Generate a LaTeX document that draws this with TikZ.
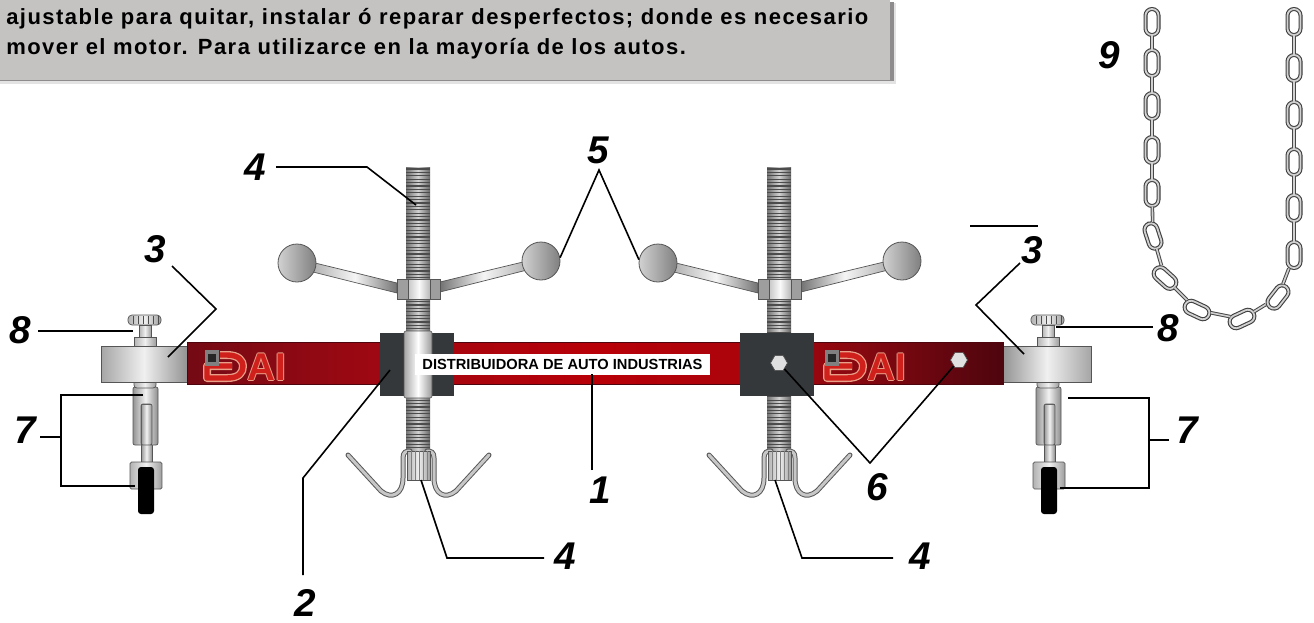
\documentclass[tikz,border=0pt]{standalone}
\usepackage{fontspec}
\setmainfont{Liberation Sans}
\usetikzlibrary{shapes.geometric}
\newlength\px \setlength\px{.75pt}
\definecolor{panel}{HTML}{C5C2C2}
\definecolor{panelshadow}{HTML}{8E8C8C}
\definecolor{panelsoft}{HTML}{E4E3E3}
\definecolor{edge}{HTML}{555555}
\definecolor{blockdark}{HTML}{34383A}
\definecolor{logotan}{HTML}{E8A088}
\definecolor{logofill}{HTML}{D0201C}
\definecolor{barA}{HTML}{740A14}
\definecolor{barB}{HTML}{A00812}
\definecolor{barC}{HTML}{B80008}
\definecolor{barD}{HTML}{AA040C}
\definecolor{barE}{HTML}{870810}
\definecolor{barF}{HTML}{4E050E}
\pgfdeclarehorizontalshading{barshade}{100bp}{
 color(0bp)=(barA);
 color(25bp)=(barA);
 color(37bp)=(barB);
 color(50bp)=(barC);
 color(60bp)=(barD);
 color(66bp)=(barE);
 color(75bp)=(barF);
 color(100bp)=(barF)}
\tikzset{
 x=.75pt,y=-.75pt,
 leader/.style={draw=black,line width=1.6\px,line join=miter},
 numlabel/.style={font=\fontsize{29}{29}\selectfont\bfseries\itshape,inner sep=0pt},
 headtext/.style={font=\fontsize{16.5}{16.5}\selectfont\bfseries,inner sep=0pt,anchor=base west},
 metal/.style={draw=edge,line width=.7\px,left color=black!42,right color=black!45,middle color=black!5},
 metalflat/.style={draw=edge,line width=.7\px,left color=black!30,right color=black!38,middle color=black!6},
 threadbase/.style={left color=black!55,right color=black!60,middle color=black!18},
 threadline/.style={draw=black!70,line width=1.1\px},
 ball/.style={circle,draw=edge,line width=.8\px,minimum size=38\px,inner sep=0pt,left color=black!18,right color=black!50},
 hookwire/.style={draw=black!65,double=black!22,double distance=3\px,line width=1\px,line cap=round},
 linkring/.style={rectangle,rounded corners=6.5\px,minimum width=26\px,minimum height=13\px,inner sep=0pt,draw=black!75,double=black!18,double distance=1.8\px,line width=1.1\px},
 linkbar/.style={draw=black!72,double=black!18,double distance=1.6\px,line width=1\px},
 boltnode/.style={regular polygon,regular polygon sides=6,minimum size=17\px,inner sep=0pt,draw=black!70,line width=.7\px,fill=black!12},
 logored/.style={draw=logotan,double=logofill,double distance=5.4\px,line width=1.3\px,line join=round},
 logotext/.style={font=\fontsize{29}{29}\selectfont\bfseries,inner sep=0pt},
}
\newcommand{\wingscrew}[1]{%
 \shade[threadbase] (406,167) rectangle (430,452);
 \foreach \ty in {169,172.4,...,450}{\draw[threadline] (406,\ty) -- (430,\ty);}
 \draw[hookwire] (348,455) -- (381,491) .. controls (392,500) and (403,494) .. (403,478) -- (403,458) .. controls (403,452) and (406,451) .. (410,451);
 \draw[hookwire] (489,455) -- (456,491) .. controls (445,500) and (434,494) .. (434,478) -- (434,458) .. controls (434,452) and (431,451) .. (427,451);
 \shade[metalflat] (407,451) rectangle (430,480);
 \foreach \rx in {411,415,...,427}{\draw[draw=black!50,line width=.7\px] (\rx,451) -- (\rx,480);}
 \shade[draw=edge,line width=.7\px,left color=black!30,right color=black!55,middle color=black!4] (315,263) -- (397,283) -- (397,293) -- (313,272) -- cycle;
 \shade[draw=edge,line width=.7\px,left color=black!55,right color=black!30,middle color=black!4] (523,262) -- (440,282) -- (440,292) -- (527,270) -- cycle;
 \filldraw[draw=edge,line width=.7\px,fill=black!38] (397,279) rectangle (440,299);
 \shade[draw=edge,line width=.5\px,left color=black!22,right color=black!28,middle color=black!2] (408,279) rectangle (430,299);
 \node[ball] (#1L) at (297,263) {};
 \node[ball] (#1R) at (541,261) {};
}
\newcommand{\clampparts}{%
 \shade[metalflat,rounded corners=4\px] (128,315) rectangle (161,325);
 \foreach \rx in {133,138,...,158}{\draw[draw=black!70,line width=1\px] (\rx,316) -- (\rx,324);}
 \shade[metalflat] (139,325) rectangle (151,337);
 \shade[metalflat] (134,337) rectangle (156,346);
 \shade[metal] (141,404) rectangle (152,464);
 \shade[metal,even odd rule,rounded corners=2\px] (133,387) rectangle (158,445) (141,404) rectangle (152,445);
 \shade[metalflat,rounded corners=3\px] (134,380) rectangle (156,388);
 \shade[metalflat,rounded corners=1.5\px] (130,462) rectangle (162,489);
 \fill[black,rounded corners=3\px] (138,467) rectangle (154,514);
}
\newcommand{\dailogo}{%
 \draw[logored] (220,355) -- (227,355) .. controls (239,355) and (243,361) .. (243,366) .. controls (243,373) and (239,378) .. (227,378) -- (207,378) -- (207,366) -- (232,366);
 \fill[black!50] (205,350) rectangle (219,366);
 \fill[black!85] (208,354) rectangle (216,362);
 \foreach \ox/\oy in {-1/0,1/0,0/-1,0/1}{
  \node[logotext,text=logotan] at (267+\ox,367+\oy) {AI};}
 \node[logotext,text=logofill] (ai) at (267,367) {AI};
}
\begin{document}
\begin{tikzpicture}
\useasboundingbox (0,0) rectangle (1314,622);
\fill[white] (0,0) rectangle (1314,622);
% heading panel
\fill[panelsoft] (0,3) rectangle (896,84);
\fill[panelshadow] (0,2) rectangle (894,81);
\fill[panel] (-2,-2) rectangle (890,80);
\node[headtext] (head1) at (6,24) {\addfontfeature{LetterSpace=6.7}ajustable para quitar, instalar ó reparar desperfectos; donde es necesario};
\node[headtext] (head2) at (6,54) {\addfontfeature{LetterSpace=6.7}mover el motor. Para utilizarce en la mayoría de los autos.};
% screws behind the bar
\wingscrew{wa}
\begin{scope}[xshift=361\px]\wingscrew{wb}\end{scope}
% clamps
\clampparts
\begin{scope}[xshift=903\px]\clampparts\end{scope}
% bar and end blocks
\shade[draw=edge,line width=.7\px,left color=black!35,right color=black!42,middle color=black!6] (101,346) rectangle (187,382);
\shade[draw=edge,line width=.7\px,left color=black!42,right color=black!35,middle color=black!6] (1003,346) rectangle (1091,382);
\shade[shading=barshade,draw=barF,line width=.8\px] (187,342) rectangle (1003,384);
% logos
\dailogo
\begin{scope}[xshift=620\px]\dailogo\end{scope}
% blocks on the bar
\fill[blockdark] (380,333) rectangle (454,396);
\fill[blockdark] (740,333) rectangle (814,396);
\shade[draw=edge,line width=.6\px,rounded corners=2\px,left color=black!35,right color=black!40,middle color=white] (404,331) rectangle (432,398);
% white plate
\node[rectangle,fill=white,inner sep=0pt,minimum width=295\px,minimum height=21\px,
      font=\fontsize{11}{11}\selectfont\bfseries] (plate) at (562.5,364.5) {DISTRIBUIDORA DE AUTO INDUSTRIAS};
% bolts
\node[boltnode] (bolta) at (779,363) {};
\node[boltnode] (boltb) at (959,360) {};
% chain
\foreach \nm/\cx/\cy/\ang in {1/1152/22/90,2/1152/63/90,3/1152/106/90,4/1152/150/90,5/1152/193/90,6/1153/236/-72,7/1165/278/-42,8/1197/310/-25,9/1242/319/25,10/1278/297/52,11/1294/255/90,12/1294/208/90,13/1294/162/90,14/1294/115/90,15/1294/68/90,16/1294/22/90}{
 \node[linkring,rotate=\ang] (lk\nm) at (\cx,\cy) {};
}
\foreach \pa/\pb in {1/2,2/3,3/4,4/5,5/6,6/7,7/8,8/9,9/10,10/11,11/12,12/13,13/14,14/15,15/16}{
 \draw[linkbar] (lk\pa) -- (lk\pb);
}
% number labels
\node[numlabel] (n9) at (1109,55) {9};
\node[numlabel] (n5) at (598,150) {5};
\node[numlabel] (n4a) at (255,167) {4};
\node[numlabel] (n3a) at (155,249) {3};
\node[numlabel] (n8a) at (20,330) {8};
\node[numlabel] (n7a) at (25,430) {7};
\node[numlabel] (n2) at (305,603) {2};
\node[numlabel] (n1) at (600,490) {1};
\node[numlabel] (n4b) at (565,556) {4};
\node[numlabel] (n4c) at (920,556) {4};
\node[numlabel] (n6) at (877,487) {6};
\node[numlabel] (n3b) at (1032,250) {3};
\node[numlabel] (n8b) at (1168,328) {8};
\node[numlabel] (n7b) at (1187,430) {7};
% leader ends
\coordinate (t4a) at (276,167);   \coordinate (p4a) at (416,205);
\coordinate (t3a) at (172,266);   \coordinate (p3a) at (168,357);
\coordinate (t8a) at (38,331);    \coordinate (p8a) at (133,331);
\coordinate (t7a) at (40,437);    \coordinate (j7a) at (61,437);
\coordinate (p7a) at (143,395);   \coordinate (q7a) at (135,486);
\coordinate (t5) at (599,170);
\coordinate (t2) at (303,575);    \coordinate (p2) at (390,370);
\coordinate (t1) at (592,470);    \coordinate (p1) at (592,374);
\coordinate (t4b) at (544,558);   \coordinate (p4b) at (421,480);
\coordinate (t4c) at (893,558);   \coordinate (p4c) at (775,480);
\coordinate (t6) at (870,463);
\coordinate (s3a) at (970,226);   \coordinate (s3b) at (1038,226);
\coordinate (t3b) at (1020,263);  \coordinate (p3b) at (1024,354);
\coordinate (t8b) at (1153,327);  \coordinate (p8b) at (1056,327);
\coordinate (t7b) at (1169,440);  \coordinate (j7b) at (1149,440);
\coordinate (p7b) at (1068,398);  \coordinate (q7b) at (1060,488);
% leaders
\draw[leader] (t4a) -- (367,167) -- (p4a);
\draw[leader] (t3a) -- (216,309) -- (p3a);
\draw[leader] (t8a) -- (p8a);
\draw[leader] (p7a) -- (61,395) -- (61,486) -- (q7a);
\draw[leader] (t7a) -- (j7a);
\draw[leader] (waR.10) -- (t5) -- (wbL.170);
\draw[leader] (t2) -- (303,478) -- (p2);
\draw[leader] (t1) -- (p1);
\draw[leader] (t4b) -- (447,558) -- (p4b);
\draw[leader] (t4c) -- (802,558) -- (p4c);
\draw[leader] (bolta) -- (t6) -- (boltb);
\draw[leader] (s3a) -- (s3b);
\draw[leader] (t3b) -- (976,305) -- (p3b);
\draw[leader] (t8b) -- (p8b);
\draw[leader] (p7b) -- (1149,398) -- (1149,488) -- (q7b);
\draw[leader] (t7b) -- (j7b);
\end{tikzpicture}
\end{document}
